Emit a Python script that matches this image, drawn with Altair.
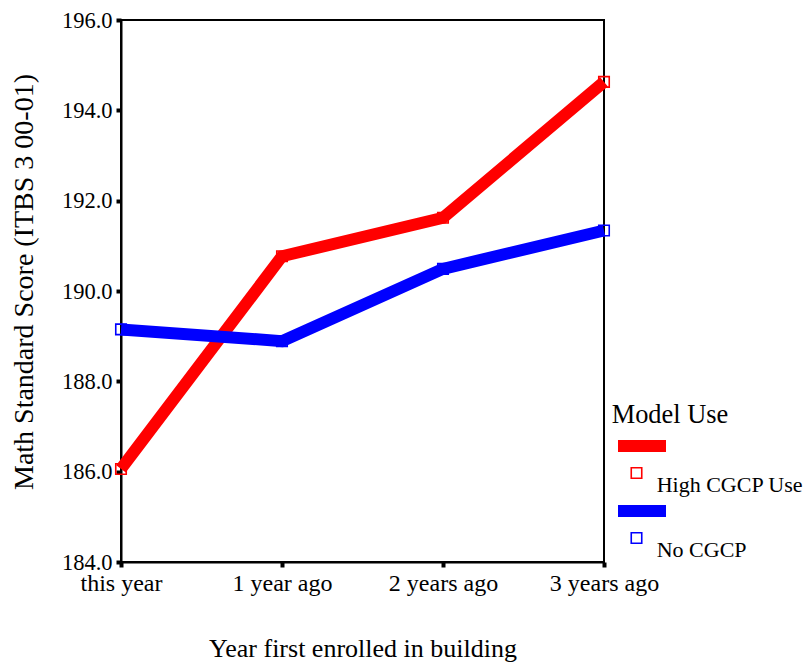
import altair as alt
import pandas as pd

years = ["this year", "1 year ago", "2 years ago", "3 years ago"]
series_names = ["High CGCP Use", "No CGCP"]
high_cgcp = [186.06, 190.77, 191.62, 194.63]
no_cgcp = [189.15, 188.89, 190.49, 191.34]
colors = ["#FF0000", "#0000FF"]
y_ticks = [184, 186, 188, 190, 192, 194, 196]

rows = []
for name, vals in zip(series_names, [high_cgcp, no_cgcp]):
    for yr, v in zip(years, vals):
        rows.append({"year": yr, "score": v, "group": name})
df = pd.DataFrame(rows)

FONT = "Liberation Serif"

x_enc = alt.X(
    "year:N", sort=years, scale=alt.Scale(type="point", padding=0),
    axis=alt.Axis(
        title="Year first enrolled in building", labelAngle=0,
        labelFont=FONT, titleFont=FONT, labelColor="black", titleColor="black",
        labelFontSize=24, labelPadding=4, labelFlush=False, labelOverlap=False,
        labelBaseline="top",
        titleFontSize=26, titleFontWeight="normal", titleY=94, titleBaseline="alphabetic",
        tickSize=5, tickWidth=4, tickColor="black", domainColor="black", domainWidth=2,
    ),
)
y_enc = alt.Y(
    "score:Q", scale=alt.Scale(domain=[184, 196], nice=False, zero=False),
    axis=alt.Axis(
        title="Math Standard Score (ITBS 3 00-01)", values=y_ticks, format=".1f",
        labelFont=FONT, titleFont=FONT, labelColor="black", titleColor="black",
        labelFontSize=22.5, labelPadding=4, labelFlush=False, labelOverlap=False,
        titleFontSize=28, titleFontWeight="normal", titleX=-89, titleY=261.5,
        titleAngle=270, titleBaseline="alphabetic",
        tickSize=5, tickWidth=4, tickColor="black", domainColor="black", domainWidth=2,
        grid=False,
    ),
)
color_enc = alt.Color("group:N", scale=alt.Scale(domain=series_names, range=colors), legend=None)

lines = alt.Chart(df).mark_line(strokeWidth=12).encode(
    x=x_enc, y=y_enc, color=color_enc, detail="group:N"
)
points = alt.Chart(df).mark_point(shape="square", filled=False, size=110, strokeWidth=1.6, opacity=1).encode(
    x=alt.X("year:N", sort=years), y="score:Q", color=color_enc
)

one = pd.DataFrame({"a": [0]})
legend_layers = [
    alt.Chart(one).mark_text(align="left", baseline="alphabetic", fontSize=26.4, font=FONT, color="black").encode(
        x=alt.value(490.7), y=alt.value(403), text=alt.value("Model Use")
    )
]
for i, (name, col) in enumerate(zip(series_names, colors)):
    dy = 65 * i
    legend_layers.append(
        alt.Chart(one).mark_rule(strokeWidth=12, color=col).encode(
            x=alt.value(497), x2=alt.value(545), y=alt.value(426 + dy)
        )
    )
    legend_layers.append(
        alt.Chart(one).mark_point(shape="square", filled=False, size=110, strokeWidth=1.6, color=col, opacity=1).encode(
            x=alt.value(515.5), y=alt.value(453 + dy)
        )
    )
    legend_layers.append(
        alt.Chart(one).mark_text(align="left", baseline="alphabetic", fontSize=22, font=FONT, color="black").encode(
            x=alt.value(535.7), y=alt.value(471.7 + dy), text=alt.value(name)
        )
    )

chart = alt.layer(lines, points, *legend_layers).properties(
    width=483, height=542,
    autosize=alt.AutoSizeParams(type="none"),
    padding={"left": 113, "top": 12, "right": 200, "bottom": 102},
).configure_view(
    stroke="black", strokeWidth=2
).configure_axis(
    labelFont=FONT, titleFont=FONT, labelColor="black", titleColor="black"
).configure_text(font=FONT)

chart.save("out.html", embed_options={"renderer": "svg", "actions": False})
